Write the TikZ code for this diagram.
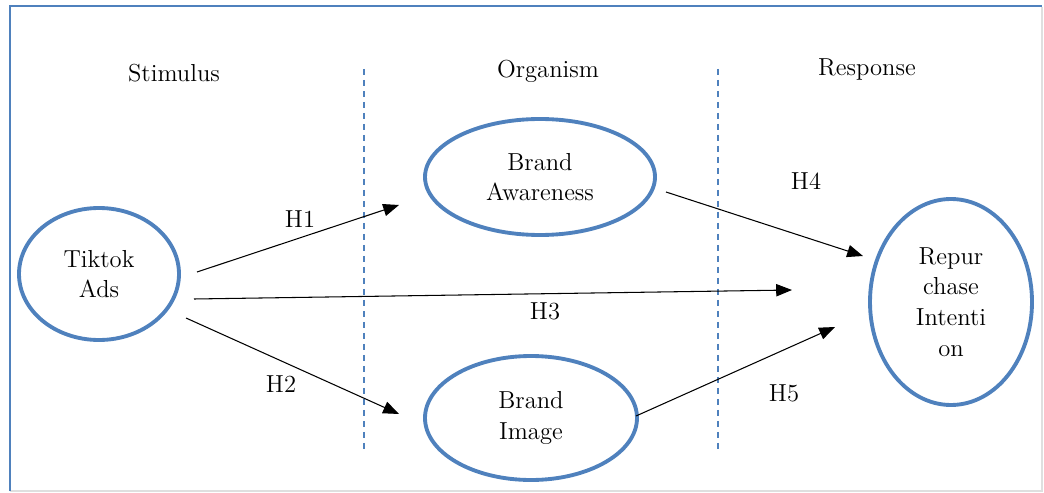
\documentclass[tikz,border=0pt]{standalone}
\usetikzlibrary{shapes.geometric,arrows.meta}
\definecolor{obl}{HTML}{4F81BD}
\begin{document}
\begin{tikzpicture}[x=0.02cm,y=-0.02cm,
  every node/.style={font=\fontsize{14}{17.5}\selectfont},
  elli/.style={ellipse,draw=obl,line width=2.2pt,inner sep=0pt,align=center},
  conn/.style={draw=black,line width=0.6pt,-{Triangle[length=9pt,width=7pt]}},
  divider/.style={draw=obl,line width=1.2pt,dash pattern=on 0.12cm off 0.1cm},
  lbl/.style={inner sep=0pt}]
\useasboundingbox (0,0) rectangle (1044,493);
% frame
\draw[gray!25,line width=0.8pt] (1042,7) -- (1042,491) -- (10,491);
\draw[obl,line width=1.2pt] (10,491) -- (10,6) -- (1042,6);
% headings
\node[lbl] (stim) at (174,73) {Stimulus};
\node[lbl] (org) at (548,71) {Organism};
\node[lbl] (resp) at (867,69) {Response};
% dividers
\coordinate (d1t) at (364,69); \coordinate (d1b) at (364,452);
\coordinate (d2t) at (718,69); \coordinate (d2b) at (718,452);
\draw[divider] (d1t) -- (d1b);
\draw[divider] (d2t) -- (d2b);
% ellipses
\node[elli,minimum width=160*0.02cm,minimum height=132*0.02cm] (tt) at (99,274) {Tiktok\\Ads};
\node[elli,minimum width=230*0.02cm,minimum height=116*0.02cm] (ba) at (540,177) {Brand\\Awareness};
\node[elli,minimum width=212*0.02cm,minimum height=124*0.02cm] (bi) at (531,418) {Brand\\Image};
\node[elli,minimum width=162*0.02cm,minimum height=206*0.02cm] (ri) at (951,302) {Repur\\chase\\Intenti\\on};
% connector endpoints
\coordinate (a1s) at (197,272); \coordinate (a1e) at (399,205);
\coordinate (a3s) at (194,299); \coordinate (a3e) at (792,290);
\coordinate (a2s) at (186,318); \coordinate (a2e) at (399,414);
\coordinate (a4s) at (666,192); \coordinate (a4e) at (863,256);
\coordinate (a5s) at (636,416); \coordinate (a5e) at (835,327);
\draw[conn] (a1s) -- (a1e);
\draw[conn] (a3s) -- (a3e);
\draw[conn] (a2s) -- (a2e);
\draw[conn] (a4s) -- (a4e);
\draw[conn] (a5s) -- (a5e);
% labels
\node[lbl] (h1) at (300,219) {H1};
\node[lbl] (h2) at (281,384) {H2};
\node[lbl] (h3) at (545,311) {H3};
\node[lbl] (h4) at (806,181) {H4};
\node[lbl] (h5) at (784,393) {H5};
\end{tikzpicture}
\end{document}
